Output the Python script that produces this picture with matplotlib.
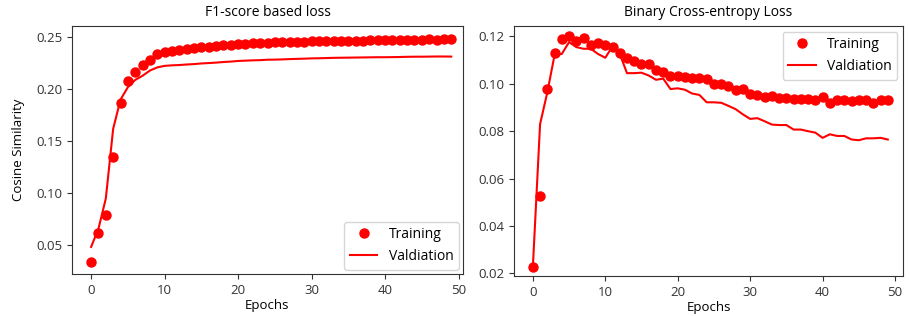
import matplotlib.pyplot as plt

plt.switch_backend('Agg')
plt.rcParams['font.family'] = ['Open Sans', 'DejaVu Sans']

epochs = list(range(50))

# F1-score based loss (cosine similarity)
f1_train = [0.0337, 0.0617, 0.079, 0.1346, 0.187, 0.2077, 0.2168, 0.223, 0.2277, 0.2335,
            0.2357, 0.2368, 0.2378, 0.2386, 0.2394, 0.2402, 0.2410, 0.2416, 0.2422, 0.2428,
            0.2433, 0.2438, 0.2441, 0.2444, 0.2447, 0.2450, 0.2452, 0.2455, 0.2456, 0.2458,
            0.2460, 0.2461, 0.2462, 0.2464, 0.2466, 0.2467, 0.2465, 0.2468, 0.2470, 0.2471,
            0.2472, 0.2473, 0.2474, 0.2476, 0.2476, 0.2477, 0.2479, 0.2478, 0.2481, 0.2482]
f1_val = [0.0485, 0.066, 0.095, 0.162, 0.190, 0.202, 0.209, 0.213, 0.218, 0.221,
          0.2225, 0.2230, 0.2233, 0.2238, 0.2242, 0.2248, 0.2252, 0.2256, 0.2262, 0.2266,
          0.2272, 0.2275, 0.2278, 0.2280, 0.2284, 0.2285, 0.2287, 0.2290, 0.2292, 0.2294,
          0.2297, 0.2298, 0.2300, 0.2302, 0.2303, 0.2304, 0.2305, 0.2306, 0.2307, 0.2308,
          0.2308, 0.2309, 0.2310, 0.2312, 0.2313, 0.2313, 0.2314, 0.2315, 0.2315, 0.2314]

# Binary cross-entropy loss
bce_train = [0.0226, 0.0528, 0.098, 0.1132, 0.119, 0.120, 0.118, 0.1194, 0.1165, 0.1173,
             0.1162, 0.1155, 0.1132, 0.1109, 0.1098, 0.1084, 0.1084, 0.1058, 0.1048, 0.1035,
             0.1035, 0.1028, 0.1026, 0.1024, 0.1020, 0.0998, 0.1000, 0.0990, 0.0973, 0.0980,
             0.0956, 0.0953, 0.0943, 0.0947, 0.0942, 0.0940, 0.0938, 0.0938, 0.0936, 0.0933,
             0.0944, 0.0921, 0.0930, 0.0932, 0.0928, 0.0931, 0.0932, 0.0920, 0.0932, 0.0932]
bce_val = [0.0225, 0.083, 0.0964, 0.1122, 0.1126, 0.1176, 0.1155, 0.1148, 0.1148, 0.1126,
           0.1110, 0.1158, 0.1126, 0.1045, 0.1045, 0.1047, 0.1035, 0.1017, 0.1022, 0.0978,
           0.0981, 0.0975, 0.0959, 0.0953, 0.0922, 0.0922, 0.0920, 0.0907, 0.0893, 0.0871,
           0.0852, 0.0855, 0.0842, 0.0828, 0.0826, 0.0826, 0.0807, 0.0807, 0.0800, 0.0794,
           0.0772, 0.0787, 0.0780, 0.0780, 0.0765, 0.0762, 0.0770, 0.0770, 0.0772, 0.0765]

fig = plt.figure(figsize=(9.1, 3.16), dpi=100)
ax1 = fig.add_axes([72 / 910, 1 - 274 / 316, 391 / 910, 248 / 316])
ax2 = fig.add_axes([514 / 910, 1 - 276 / 316, 389 / 910, 250 / 316])

for ax, tr, va, title in [(ax1, f1_train, f1_val, 'F1-score based loss'),
                          (ax2, bce_train, bce_val, 'Binary Cross-entropy Loss')]:
    ax.plot(epochs, tr, 'o', color='red', markersize=6.5, label='Training')
    ax.plot(epochs, va, '-', color='red', linewidth=1.5, label='Valdiation')
    ax.set_title(title, fontsize=10, pad=7)
    ax.set_xlabel('Epochs', fontsize=9.5, labelpad=2)
    ax.set_xticks([0, 10, 20, 30, 40, 50])
    ax.tick_params(labelsize=9.5, colors='#333333')
    for s in ax.spines.values():
        s.set_color('#333333')

ax1.set_xlim(-2.6, 50.6)
ax1.set_ylim(0.0225, 0.2608)
ax1.set_yticks([0.05, 0.10, 0.15, 0.20, 0.25])
ax1.set_ylabel('Cosine Similarity', fontsize=9.5, labelpad=8)
ax1.legend(loc='lower right', fontsize=10, frameon=True, borderaxespad=0.3)

ax2.set_xlim(-2.6, 51.1)
ax2.set_ylim(0.0189, 0.1244)
ax2.set_yticks([0.02, 0.04, 0.06, 0.08, 0.10, 0.12])
ax2.legend(loc='upper right', fontsize=10, frameon=True, borderaxespad=0.4)

plt.savefig('out.png', dpi=100)
plt.close()
